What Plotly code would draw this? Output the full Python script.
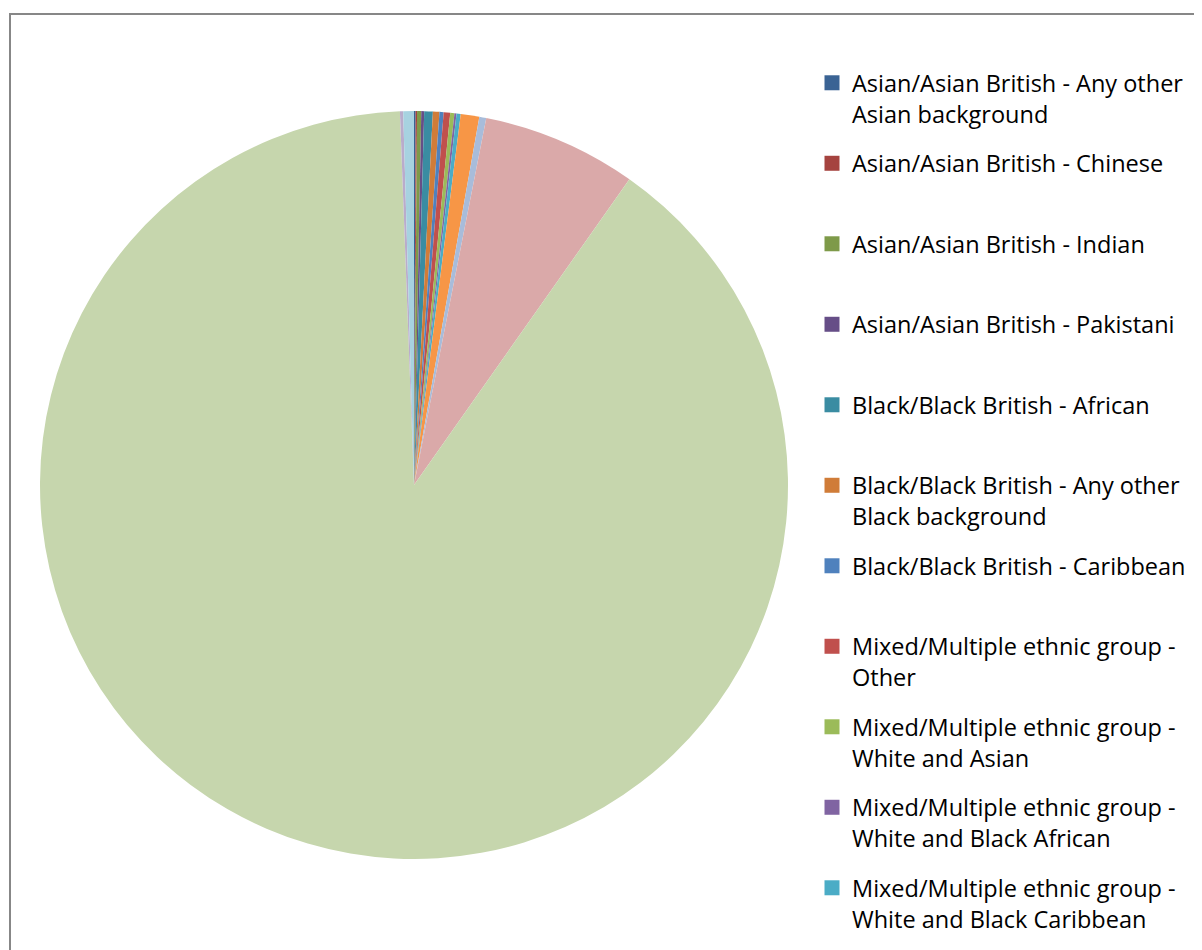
import plotly.graph_objects as go

# Categories (slice order, clockwise from 12 o'clock)
categories = [
    "Asian/Asian British - Any other Asian background",
    "Asian/Asian British - Chinese",
    "Asian/Asian British - Indian",
    "Asian/Asian British - Pakistani",
    "Black/Black British - African",
    "Black/Black British - Any other Black background",
    "Black/Black British - Caribbean",
    "Mixed/Multiple ethnic group - Other",
    "Mixed/Multiple ethnic group - White and Asian",
    "Mixed/Multiple ethnic group - White and Black African",
    "Mixed/Multiple ethnic group - White and Black Caribbean",
    "Other ethnic group - Any other ethnic group",
    "Other ethnic group - Arab",
    "White - Any other White background",
    "White - English/Welsh/Scottish/Northern Irish/British",
    "White - Gypsy or Irish Traveller",
    "White - Irish",
]

# Share of population (%)
values = [0.07, 0.06, 0.18, 0.125, 0.37, 0.28, 0.18, 0.28, 0.18, 0.09, 0.18,
          0.80, 0.30, 6.67, 89.60, 0.14, 0.46]

# Legend entries visible in the reference (legend is cut off after these)
legend_labels = [
    "Asian/Asian British - Any other<br>Asian background",
    "Asian/Asian British - Chinese",
    "Asian/Asian British - Indian",
    "Asian/Asian British - Pakistani",
    "Black/Black British - African",
    "Black/Black British - Any other<br>Black background",
    "Black/Black British - Caribbean",
    "Mixed/Multiple ethnic group -<br>Other",
    "Mixed/Multiple ethnic group -<br>White and Asian",
    "Mixed/Multiple ethnic group -<br>White and Black African",
    "Mixed/Multiple ethnic group -<br>White and Black Caribbean",
]

colors = [
    "#3A6394", "#A5433F", "#7E9A49", "#664E87", "#3A8CA2", "#D07C38",
    "#4F81BD", "#C0504D", "#9BBB59", "#8064A2", "#4BACC6", "#F79646",
    "#A8BCDA", "#DAA9A9", "#C6D6AD", "#B9ACCB", "#A7D2E0",
]

W, H = 1202, 950
OFF = 8  # page body margin offset
FONT = "Open Sans"
FS = 23.5

fig = go.Figure()
fig.add_trace(go.Pie(
    labels=categories,
    values=values,
    sort=False,
    direction="clockwise",
    rotation=0,
    marker=dict(colors=colors, line=dict(width=0)),
    textinfo="none",
    hoverinfo="label+percent",
    showlegend=False,
    domain=dict(x=[(40 - OFF) / W, (788 - OFF) / W],
                y=[1 - (859 - OFF) / H, 1 - (111 - OFF) / H]),
))

# legend entries (same categories/colours as the slices)
for i, lab in enumerate(legend_labels):
    n = lab.count("<br>") + 1
    text = lab + "<br>&nbsp;" * (2 - n)
    fig.add_trace(go.Scatter(
        x=[None], y=[None], mode="markers",
        marker=dict(symbol="square", size=15, color=colors[i]),
        name=text, legendgroup=f"g{i}", showlegend=True, hoverinfo="skip",
    ))

fig.add_shape(type="rect", xref="paper", yref="paper",
              x0=(10 - OFF) / W, x1=1.05, y0=-0.05, y1=1 - (14 - OFF) / H,
              line=dict(color="#878787", width=2), layer="below")

fig.update_layout(
    width=W, height=H,
    margin=dict(l=0, r=0, t=0, b=0, autoexpand=False),
    paper_bgcolor="white",
    plot_bgcolor="white",
    xaxis=dict(visible=False),
    yaxis=dict(visible=False),
    font=dict(family=FONT, size=FS, color="black"),
    legend=dict(
        x=804 / W, xanchor="left",
        y=1 - 53 / H, yanchor="top",
        valign="top",
        tracegroupgap=16.4,
        font=dict(family=FONT, size=FS, color="black"),
        bgcolor="rgba(0,0,0,0)",
        itemclick=False,
        itemdoubleclick=False,
    ),
    showlegend=True,
)

fig.write_html("out.html")
